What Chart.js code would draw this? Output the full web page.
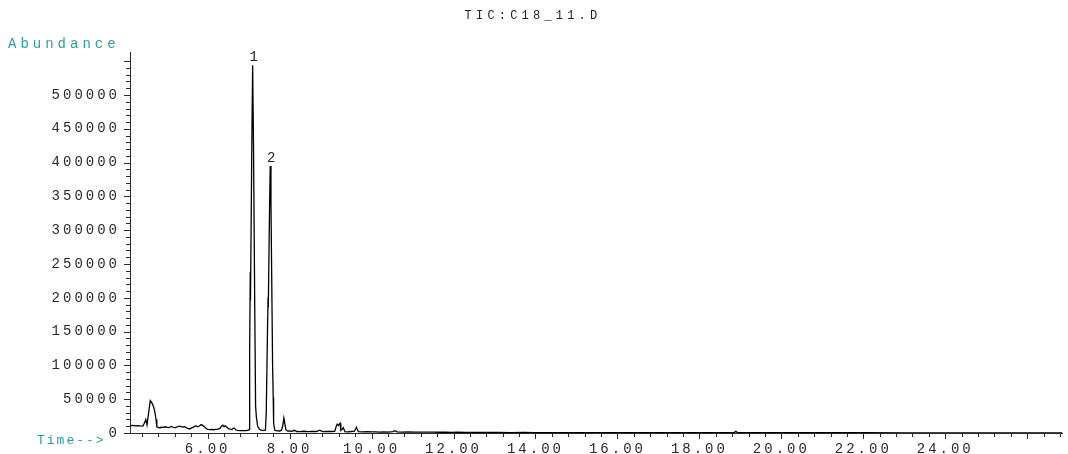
<!DOCTYPE html>
<html><head><meta charset="utf-8">
<script src="https://cdn.jsdelivr.net/npm/chart.js@4.4.1/dist/chart.umd.min.js"></script>
<style>html,body{margin:0;padding:0;background:#fff;overflow:hidden}</style>
</head><body>
<canvas id="c" width="1068" height="454"></canvas>
<script>
const chartTitle = 'TIC:C18_11.D';
const yAxisTitle = 'Abundance';
const xAxisTitle = 'Time-->';

const times = [
  4.11,4.17,4.23,4.29,4.35,4.42,4.46,4.49,4.52,4.56,4.60,4.64,4.68,4.71,4.74,4.76,4.80,4.84,4.88,4.92,
  4.96,5.00,5.04,5.08,5.12,5.16,5.20,5.24,5.28,5.32,5.36,5.40,5.44,5.48,5.52,5.56,5.60,5.64,5.68,5.72,
  5.76,5.80,5.84,5.88,5.92,5.96,6.00,6.05,6.10,6.15,6.20,6.25,6.30,6.34,6.37,6.40,6.43,6.47,6.51,6.55,
  6.59,6.62,6.65,6.69,6.74,6.80,6.86,6.92,6.98,7.01,7.025,7.04,7.045,7.08,7.098,7.12,7.15,7.17,7.19,7.22,
  7.26,7.30,7.36,7.41,7.43,7.46,7.475,7.48,7.51,7.527,7.545,7.565,7.585,7.60,7.61,7.64,7.70,7.76,7.80,7.83,
  7.86,7.88,7.91,7.95,8.00,8.05,8.12,8.17,8.25,8.35,8.45,8.55,8.65,8.74,8.80,8.90,9.00,9.10,9.14,9.16,
  9.19,9.23,9.25,9.29,9.31,9.35,9.42,9.50,9.58,9.61,9.63,9.66,9.68,9.78,9.90,10.00,10.10,10.20,10.30,10.40,
  10.52,10.57,10.62,10.75,10.90,11.05,11.20,11.35,11.50,11.65,11.80,11.95,12.10,12.30,12.50,12.80,13.10,13.40,13.70,14.00,
  14.40,14.80,15.20,15.60,16.00,16.50,17.00,17.50,18.00,18.50,18.85,18.89,18.93,19.50,20.00,20.50,21.00,22.00,23.00,24.00,
  25.00,26.00,26.86
];
const abundance = [
  10800,11200,10500,11000,10400,10200,15000,20000,12000,30000,47800,44500,39000,31500,20000,9000,8000,7800,8500,8200,
  9200,8600,8000,8800,9800,8500,7800,8600,9600,10200,9400,8800,9600,7800,6800,6000,7200,8400,9800,10600,
  9200,10400,12400,11200,9400,6600,5400,5000,5200,4800,5400,5800,6800,10400,11600,9400,10600,8600,6400,5600,
  5000,6800,7200,4400,3800,3600,3400,3600,3800,5000,120000,238000,196000,440000,544000,420000,180000,40000,23000,10000,
  6000,4400,4000,4200,30000,150000,201000,186000,330000,395000,340000,220000,100000,52000,14000,4000,3200,3000,4000,10000,
  22000,15000,5000,2800,3000,2400,4000,2200,2000,2600,2000,2400,2200,4200,2000,2400,2200,2400,10000,13000,
  11000,14500,4000,6000,8000,2000,1800,2200,2600,6000,8400,4000,2000,1800,2000,1600,1800,1400,1600,1400,
  2000,3400,1600,1400,1600,1200,1400,1200,1300,1100,1200,1000,1100,900,1000,800,900,700,800,700,
  600,700,600,600,500,600,500,500,500,500,600,2400,600,500,400,400,400,400,300,300,
  300,300,300
];

const xTickLabels = ['6.00','8.00','10.00','12.00','14.00','16.00','18.00','20.00','22.00','24.00'];
const yTickLabels = ['0','50000','100000','150000','200000','250000','300000','350000','400000','450000','500000'];
const peakLabels = ['1','2'];
const peakTimes = [7.098, 7.527];
const peakAbundance = [544000, 395000];

const X_MIN = 4.105, X_MAX = 26.86, Y_MAX = 563600;
const X_MINOR = 0.4, X_MAJOR = 2, Y_MINOR = 10000, Y_MAJOR = 50000;
const TICK_SPACING = '3px';
const AXIS_COLOR = '#2a2a2a';
const TEAL = '#2f9c9c';

function isMult(v, step) { const r = v / step; return Math.abs(r - Math.round(r)) < 1e-6; }

const spacingPlugin = {
  id: 'spacing',
  beforeUpdate(chart) { chart.ctx.letterSpacing = TICK_SPACING; },
  beforeLayout(chart) { chart.ctx.letterSpacing = TICK_SPACING; },
  beforeDraw(chart) { chart.ctx.letterSpacing = TICK_SPACING; }
};

function drawText(ctx, text, x, y, font, color, spacing, align) {
  ctx.save();
  ctx.letterSpacing = spacing;
  ctx.font = font;
  ctx.fillStyle = color;
  ctx.textAlign = align || 'left';
  ctx.textBaseline = 'middle';
  ctx.fillText(text, x, y);
  ctx.restore();
}

const decorPlugin = {
  id: 'decor',
  afterDraw(chart) {
    const ctx = chart.ctx, xs = chart.scales.x, ys = chart.scales.y, a = chart.chartArea;
    ctx.save();
    ctx.strokeStyle = AXIS_COLOR;
    ctx.lineWidth = 1;
    ctx.beginPath();
    xs.ticks.forEach(t => {
      if (!isMult(t.value, X_MINOR)) return;
      const px = Math.round(xs.getPixelForValue(t.value)) + 0.5;
      const len = isMult(t.value, X_MAJOR) ? 6 : 4;
      ctx.moveTo(px, a.bottom); ctx.lineTo(px, a.bottom + len);
    });
    ys.ticks.forEach(t => {
      if (!isMult(t.value, Y_MINOR)) return;
      const py = Math.round(ys.getPixelForValue(t.value)) + 0.5;
      const len = isMult(t.value, Y_MAJOR) ? 6 : 4;
      ctx.moveTo(a.left, py); ctx.lineTo(a.left - len, py);
    });
    ctx.stroke();
    ctx.restore();

    drawText(ctx, chartTitle, chart.width / 2 - 1, 16, '12px "Liberation Mono"', '#222', '4.2px', 'center');
    drawText(ctx, yAxisTitle, 8, 44, '14px "Liberation Mono"', TEAL, '4px', 'left');
    drawText(ctx, xAxisTitle, 37, 441, '13px "Liberation Mono"', TEAL, '2px', 'left');
    peakLabels.forEach((lab, i) => {
      const px = xs.getPixelForValue(peakTimes[i]);
      const py = ys.getPixelForValue(peakAbundance[i]);
      drawText(ctx, lab, px + 1, py - 8, '14px "Liberation Mono"', '#222', '0px', 'center');
    });
  }
};

new Chart(document.getElementById('c'), {
  type: 'line',
  data: {
    datasets: [{
      data: times.map((t, i) => ({ x: t, y: abundance[i] })),
      borderColor: '#000',
      borderWidth: 1.3,
      pointRadius: 0,
      tension: 0,
      fill: false
    }]
  },
  options: {
    responsive: false,
    animation: false,
    devicePixelRatio: 1,
    layout: { padding: { top: 52, right: 5, left: 0, bottom: 0 } },
    plugins: { legend: { display: false }, title: { display: false }, tooltip: { enabled: false } },
    scales: {
      x: {
        type: 'linear',
        min: X_MIN, max: X_MAX,
        afterBuildTicks(scale) {
          const ticks = [];
          for (let k = Math.ceil(X_MIN / X_MINOR); k * X_MINOR <= X_MAX; k++) ticks.push({ value: +(k * X_MINOR).toFixed(2) });
          scale.ticks = ticks;
        },
        afterFit(scale) { scale.height = 21; },
        grid: { display: false, drawTicks: false },
        border: { display: true, color: AXIS_COLOR, width: 1 },
        ticks: {
          autoSkip: false, maxRotation: 0, padding: 8,
          color: '#2a2a2a',
          font: { family: '"Liberation Mono"', size: 14 },
          callback(v) { const s = Number(v).toFixed(2); return xTickLabels.includes(s) ? s : ''; }
        }
      },
      y: {
        type: 'linear',
        min: 0, max: Y_MAX,
        afterBuildTicks(scale) {
          const ticks = [];
          for (let v = 0; v <= 550000; v += Y_MINOR) ticks.push({ value: v });
          scale.ticks = ticks;
        },
        afterFit(scale) { scale.width = 130; },
        grid: { display: false, drawTicks: false },
        border: { display: true, color: AXIS_COLOR, width: 1 },
        ticks: {
          autoSkip: false, padding: 10,
          color: '#2a2a2a',
          font: { family: '"Liberation Mono"', size: 14 },
          callback(v) { const s = String(v); return yTickLabels.includes(s) ? s : ''; }
        }
      }
    }
  },
  plugins: [spacingPlugin, decorPlugin]
});
</script>
</body></html>
